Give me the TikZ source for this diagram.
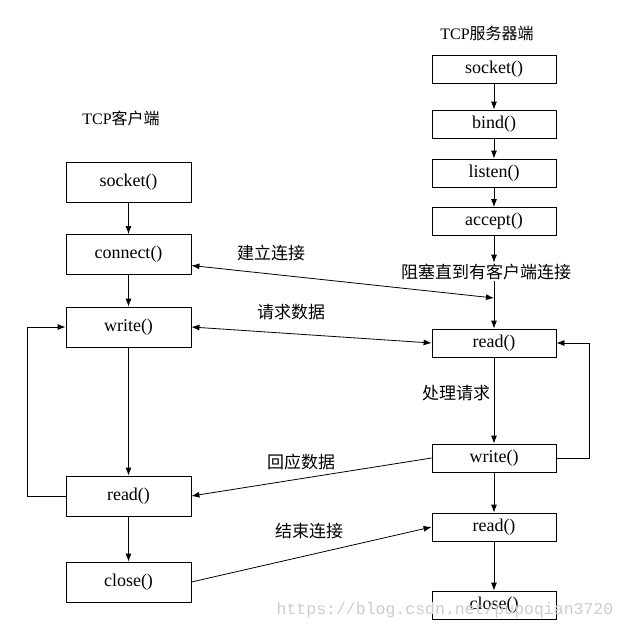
\documentclass[tikz,border=0pt]{standalone}
\usepackage{fontspec}
\setmainfont{Liberation Serif}
\setmonofont{Liberation Mono}
\newfontfamily\cjk{Noto Sans CJK SC}
\usetikzlibrary{arrows.meta}

\def\clientbox#1#2#3{
	\node[cbox] (#1) at (128.5,#2) {#3};
}
\def\serverbox#1#2#3{
	\node[sbox] (#1) at (494,#2) {#3};
}

\begin{document}
\begin{tikzpicture}[>={Latex[length=8pt,width=6pt]},x=1pt,y=-1pt,line width=0.8pt,
	cbox/.style={draw,minimum width=125pt,minimum height=40pt,inner sep=0pt,font=\fontsize{18}{18}\selectfont},
	sbox/.style={draw,minimum width=124pt,minimum height=28pt,inner sep=0pt,font=\fontsize{18}{18}\selectfont},
	lab/.style={inner sep=1pt,font=\cjk\fontsize{17}{17}\selectfont},
	head/.style={inner sep=1pt,font=\fontsize{16}{16}\selectfont}]
\useasboundingbox (0,0) rectangle (623,630);

% titles
\node[head] (tclient) at (121,118) {TCP{\cjk 客户端}};
\node[head] (tserver) at (487,33) {TCP{\cjk 服务器端}};

% client side
\clientbox{csocket}{182}{socket()}
\clientbox{cconnect}{254.5}{connect()}
\clientbox{cwrite}{327}{write()}
\clientbox{cread}{496}{read()}
\clientbox{cclose}{582}{close()}

% server side
\serverbox{ssocket}{69}{socket()}
\serverbox{sbind}{124}{bind()}
\serverbox{slisten}{173}{listen()}
\serverbox{saccept}{221.5}{accept()}
\serverbox{sread}{343}{read()}
\serverbox{swrite}{458}{write()}
\serverbox{sread2}{527}{read()}
\serverbox{sclose}{605}{close()}

\foreach \a/\b in {csocket/cconnect,cconnect/cwrite,cwrite/cread,cread/cclose,
	ssocket/sbind,sbind/slisten,slisten/saccept,sread/swrite,swrite/sread2,sread2/sclose}{
	\draw[->] (\a) -- (\b);
}

% waiting for a client
\node[lab] (block) at (486,272) {阻塞直到有客户端连接};
\draw[->] (saccept) -- (saccept |- block.north);
\draw[->] (saccept |- block.south) -- (sread);
\coordinate (sline) at (494,298);

% loops
\draw[->] (cread.west) -- ++(-38,0) |- (cwrite.west);
\draw[->] (swrite.east) -- ++(33,0) |- (sread.east);

% messages
\draw[<->] ([yshift=-11pt]cconnect.east) -- (sline);
\draw[<->] (cwrite.east) -- (sread.west);
\draw[->] (swrite.west) -- (cread.east);
\draw[->] (cclose.east) -- (sread2.west);

\node[lab] (lconnect) at (271,253) {建立连接};
\node[lab] (lrequest) at (291,312) {请求数据};
\node[lab] (lwork) at (456,393) {处理请求};
\node[lab] (lreply) at (301,462) {回应数据};
\node[lab] (lend) at (309,531) {结束连接};

% watermark
\node[text=gray!40,font=\ttfamily\fontsize{16.5}{16.5}\selectfont] (mark) at (445,610) {https://blog.csdn.net/pupoqian3720};
\end{tikzpicture}
\end{document}
